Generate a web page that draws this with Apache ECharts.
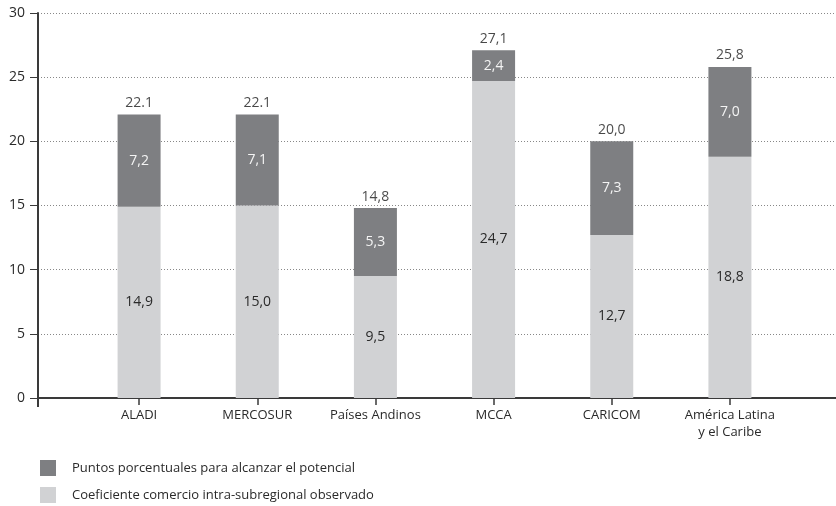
<!DOCTYPE html>
<html>
<head>
<meta charset="utf-8">
<script src="https://cdn.jsdelivr.net/npm/echarts@6/dist/echarts.min.js"></script>
<style>html,body{margin:0;padding:0;background:#fff}#c{width:836px;height:506px}</style>
</head>
<body>
<div id="c"></div>
<script>
var categories = ['ALADI', 'MERCOSUR', 'Países Andinos', 'MCCA', 'CARICOM', 'América Latina\ny el Caribe'];
var observed = [14.9, 15.0, 9.5, 24.7, 12.7, 18.8];
var potential = [7.2, 7.1, 5.3, 2.4, 7.3, 7.0];
var observedLabels = ['14,9', '15,0', '9,5', '24,7', '12,7', '18,8'];
var potentialLabels = ['7,2', '7,1', '5,3', '2,4', '7,3', '7,0'];
var totalLabels = ['22.1', '22.1', '14,8', '27,1', '20,0', '25,8'];
var yTicks = [0, 5, 10, 15, 20, 25, 30];
var seriesNames = ['Puntos porcentuales para alcanzar el potencial', 'Coeficiente comercio intra-subregional observado'];

var FONT = 'Open Sans';
var totals = observed.map(function (v, i) { return +(v + potential[i]).toFixed(1); });

var chart = echarts.init(document.getElementById('c'), null, {renderer: 'canvas'});
chart.setOption({
  animation: false,
  textStyle: {fontFamily: FONT},
  grid: [
    {left: 38, right: -3, top: 13, bottom: 108},
    {left: 80, right: 47, top: 13, bottom: 108}
  ],
  xAxis: [
    {gridIndex: 0, type: 'value', min: 0, max: 1, interval: 1,
      axisLine: {show: true, lineStyle: {color: '#3a3a3a', width: 2}},
      axisTick: {show: true, customValues: [0], length: 9, lineStyle: {color: '#3a3a3a', width: 2}},
      axisLabel: {show: false}, splitLine: {show: false}},
    {gridIndex: 1, type: 'category', data: categories,
      axisLine: {show: false},
      axisTick: {show: true, alignWithLabel: true, length: 7, lineStyle: {color: '#3a3a3a', width: 1.5}},
      axisLabel: {color: '#2a2a2a', fontSize: 13, fontFamily: FONT, margin: 9, lineHeight: 17}}
  ],
  yAxis: [
    {gridIndex: 0, type: 'value', min: yTicks[0], max: yTicks[yTicks.length - 1], interval: yTicks[1] - yTicks[0],
      axisLine: {show: true, lineStyle: {color: '#3a3a3a', width: 2}},
      axisTick: {show: true, length: 8, lineStyle: {color: '#3a3a3a', width: 1}},
      axisLabel: {color: '#2a2a2a', fontSize: 14, fontFamily: FONT, margin: 13},
      splitLine: {show: true, lineStyle: {color: '#888', type: [1, 2], width: 1}}},
    {gridIndex: 1, type: 'value', min: yTicks[0], max: yTicks[yTicks.length - 1], show: false}
  ],
  legend: {
    orient: 'vertical', left: 40, top: 460, padding: 0, itemWidth: 16, itemHeight: 16, itemGap: 11,
    icon: 'rect', data: seriesNames,
    textStyle: {color: '#2a2a2a', fontSize: 13, fontFamily: FONT, padding: [0, 0, 0, 11]}
  },
  series: [
    {name: seriesNames[1], type: 'bar', stack: 's', xAxisIndex: 1, yAxisIndex: 1,
      data: observed, barWidth: 43, itemStyle: {color: '#d1d2d4'},
      label: {show: true, position: 'inside', color: '#2a2a2a', fontSize: 14, fontFamily: FONT,
        formatter: function (p) { return observedLabels[p.dataIndex]; }}},
    {name: seriesNames[0], type: 'bar', stack: 's', xAxisIndex: 1, yAxisIndex: 1,
      data: potential, barWidth: 43, itemStyle: {color: '#7e7f82'},
      label: {show: true, position: 'inside', color: '#f4f4f4', fontSize: 14, fontFamily: FONT,
        formatter: function (p) { return potentialLabels[p.dataIndex]; }}},
    {name: 'total', type: 'scatter', xAxisIndex: 1, yAxisIndex: 1, data: totals,
      symbolSize: 1, itemStyle: {color: 'rgba(0,0,0,0)'}, silent: true,
      label: {show: true, position: 'top', distance: 4, color: '#1a1a1a', fontSize: 14, fontFamily: FONT,
        formatter: function (p) { return totalLabels[p.dataIndex]; }}}
  ]
});
</script>
</body>
</html>
